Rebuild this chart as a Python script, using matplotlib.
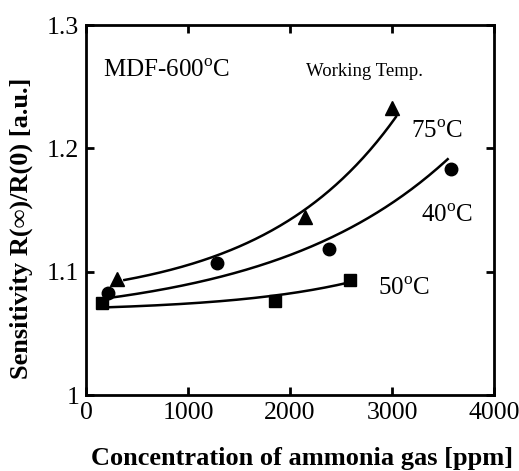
import numpy as np
import matplotlib
matplotlib.use('Agg')
import matplotlib.pyplot as plt

plt.rcParams['font.family'] = ['Liberation Serif', 'DejaVu Serif']
plt.rcParams['mathtext.fontset'] = 'custom'
plt.rcParams['mathtext.rm'] = 'Liberation Serif'

x_75 = [304, 2147, 3000]
y_75 = [1.094, 1.144, 1.233]
x_40 = [216, 1284, 2382, 3578]
y_40 = [1.083, 1.107, 1.118, 1.183]
x_50 = [157, 1853, 2588]
y_50 = [1.075, 1.076, 1.093]

# points
cx_75 = [376, 1307, 2124, 2614, 3039]
cy_75 = [1.093, 1.114, 1.150, 1.182, 1.226]
cx_40 = [180, 1275, 2386, 3105, 3546]
cy_40 = [1.078, 1.095, 1.128, 1.160, 1.192]
cx_50 = [163, 980, 1830, 2565]
cy_50 = [1.071, 1.074, 1.0805, 1.091]

fig = plt.figure(figsize=(5.19, 4.71), dpi=100)
ax = fig.add_axes([86/519, 1 - 395/471, 408/519, 370/471])

def exp_curve(xs, ys):
    # y = a + b*exp(k*x), grid over k, least squares for a, b
    xs = np.asarray(xs, float)
    ys = np.asarray(ys, float)
    best = None
    for k in np.linspace(1e-5, 2e-3, 400):
        A = np.column_stack([np.ones_like(xs), np.exp(k * xs)])
        coef, *_ = np.linalg.lstsq(A, ys, rcond=None)
        r = np.sum((A @ coef - ys) ** 2)
        if best is None or r < best[0]:
            best = (r, k, coef)
    _, k, coef = best
    xx = np.linspace(xs.min(), xs.max(), 200)
    ax.plot(xx, coef[0] + coef[1] * np.exp(k * xx), color='black', linewidth=1.8)

exp_curve(cx_75, cy_75)
exp_curve(cx_40, cy_40)
exp_curve(cx_50, cy_50)

ax.plot(x_75, y_75, '^', color='black', markersize=10)
ax.plot(x_40, y_40, 'o', color='black', markersize=9)
ax.plot(x_50, y_50, 's', color='black', markersize=8.5)

ax.set_xlim(0, 4000)
ax.set_ylim(1.0, 1.3)
ax.set_xticks([0, 1000, 2000, 3000, 4000])
ax.set_yticks([1.0, 1.1, 1.2, 1.3])
ax.set_yticklabels(['1', '1.1', '1.2', '1.3'])
ax.tick_params(direction='in', length=6, width=2, labelsize=18.5, top=True, right=True, pad=5)
for s in ax.spines.values():
    s.set_linewidth(2)

ax.text(0.042, 0.859, r'MDF-600$^\mathrm{o}$C', transform=ax.transAxes, fontsize=18)
ax.text(0.539, 0.862, 'Working Temp.', transform=ax.transAxes, fontsize=13.5)
ax.text(0.797, 0.695, r'75$^\mathrm{o}$C', transform=ax.transAxes, fontsize=18)
ax.text(0.821, 0.468, r'40$^\mathrm{o}$C', transform=ax.transAxes, fontsize=18)
ax.text(0.716, 0.270, r'50$^\mathrm{o}$C', transform=ax.transAxes, fontsize=18)

ax.set_xlabel('Concentration of ammonia gas [ppm]', fontsize=19, fontweight='bold')
ax.set_ylabel('Sensitivity R(\u221e)/R(0) [a.u.]', fontsize=19, fontweight='bold')
ax.xaxis.set_label_coords(0.529, -0.14)
ax.yaxis.set_label_coords(-0.13, 0.451)

fig.savefig('out.png', dpi=100)
